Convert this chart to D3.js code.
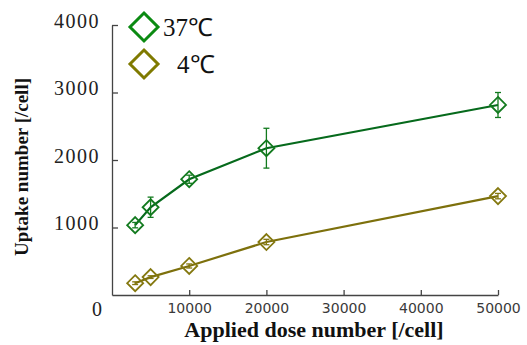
<!DOCTYPE html>
<html>
<head>
<meta charset="utf-8">
<script src="https://cdn.jsdelivr.net/npm/d3@7"></script>
<style>
  body { margin: 0; background: #fff; }
</style>
</head>
<body>
<script>
var width = 527, height = 345;
var serif = "'Times New Roman'";

// data
var doses = [3000, 5000, 10000, 20000, 50000];
var uptake37 = [1035, 1300, 1715, 2175, 2815];
var err37 = [40, 150, 60, 295, 185];
var uptake4 = [175, 265, 430, 785, 1465];
var err4 = [20, 20, 30, 40, 40];
var xTicks = [10000, 20000, 30000, 40000, 50000];
var yTicks = [1000, 2000, 3000, 4000];

var green = "#127a1e", olive = "#84780f";

var svg = d3.select("body").append("svg")
  .attr("width", width)
  .attr("height", height);

var x = d3.scaleLinear().domain([0, 50000]).range([112, 498]);
var y = d3.scaleLinear().domain([0, 4000]).range([295, 25]);

// axes
var xAxis = svg.append("g")
  .attr("transform", "translate(0," + y(0) + ")")
  .call(d3.axisBottom(x).tickValues(xTicks).tickSizeInner(-5).tickSizeOuter(0).tickFormat(d3.format("d")));
xAxis.select(".domain").attr("stroke", "#444").attr("stroke-width", 1.3);
xAxis.selectAll(".tick line").attr("stroke", "#444").attr("stroke-width", 1.3);
xAxis.selectAll(".tick text")
  .attr("y", 8)
  .style("font-family", "'DejaVu Sans'")
  .style("font-size", "14px")
  .attr("fill", "#3a3a3a");

var yAxis = svg.append("g")
  .attr("transform", "translate(" + x(0) + ",0)")
  .call(d3.axisLeft(y).tickValues(yTicks).tickSizeInner(-6).tickSizeOuter(0).tickFormat(d3.format("d")));
yAxis.select(".domain").attr("stroke", "#444").attr("stroke-width", 1.3);
yAxis.selectAll(".tick text")
  .attr("x", -12)
  .attr("dy", "0.12em")
  .style("font-family", serif)
  .style("font-size", "20px")
  .style("letter-spacing", "1.5px")
  .attr("fill", "#222");
yAxis.selectAll(".tick line").attr("stroke", "#444").attr("stroke-width", 1.3);

svg.append("text")
  .attr("x", 102).attr("y", 316)
  .attr("text-anchor", "end")
  .style("font-family", serif)
  .style("font-size", "20px")
  .attr("fill", "#222")
  .text("0");

// titles
svg.append("text")
  .attr("x", 314).attr("y", 337)
  .attr("text-anchor", "middle")
  .style("font-family", serif)
  .style("font-weight", "bold")
  .style("font-size", "22px")
  .attr("fill", "#111")
  .text("Applied dose number [/cell]");

svg.append("text")
  .attr("transform", "translate(28,167) rotate(-90)")
  .attr("text-anchor", "middle")
  .style("font-family", serif)
  .style("font-weight", "bold")
  .style("font-size", "19px")
  .attr("fill", "#111")
  .text("Uptake number [/cell]");

// series
function drawSeries(vals, errs, col, lineCol) {
  var pts = doses.map(function (d, i) { return { x: d, y: vals[i], e: errs[i] }; });
  var line = d3.line()
    .x(function (d) { return x(d.x); })
    .y(function (d) { return y(d.y); });
  var g = svg.append("g");
  g.append("path")
    .datum(pts)
    .attr("d", line)
    .attr("fill", "none")
    .attr("stroke", lineCol)
    .attr("stroke-width", 2.2);
  var eb = g.selectAll(".err").data(pts).enter().append("g");
  eb.append("line")
    .attr("x1", function (d) { return x(d.x); })
    .attr("x2", function (d) { return x(d.x); })
    .attr("y1", function (d) { return y(d.y - d.e); })
    .attr("y2", function (d) { return y(d.y + d.e); })
    .attr("stroke", col).attr("stroke-width", 1.3);
  [-1, 1].forEach(function (s) {
    eb.append("line")
      .attr("x1", function (d) { return x(d.x) - 3; })
      .attr("x2", function (d) { return x(d.x) + 3; })
      .attr("y1", function (d) { return y(d.y + s * d.e); })
      .attr("y2", function (d) { return y(d.y + s * d.e); })
      .attr("stroke", col).attr("stroke-width", 1.3);
  });
  g.selectAll(".mk").data(pts).enter().append("path")
    .attr("d", "M0,-8L8,0L0,8L-8,0Z")
    .attr("transform", function (d) { return "translate(" + x(d.x) + "," + y(d.y) + ")"; })
    .attr("fill", "none")
    .attr("stroke", col)
    .attr("stroke-width", 1.8);
}

drawSeries(uptake37, err37, green, "#066a1c");
drawSeries(uptake4, err4, olive, "#7d700c");

// legend
var legend = [
  { label: "37\u2103", col: "#0b8a12", y: 27, tx: 163 },
  { label: "4\u2103", col: "#7f7a00", y: 64, tx: 177 }
];
var lg = svg.selectAll(".leg").data(legend).enter().append("g");
lg.append("path")
  .attr("d", "M0,-14L14,0L0,14L-14,0Z")
  .attr("transform", function (d) { return "translate(144," + d.y + ")"; })
  .attr("fill", "none")
  .attr("stroke", function (d) { return d.col; })
  .attr("stroke-width", 3);
lg.append("text")
  .attr("x", function (d) { return d.tx; })
  .attr("y", function (d) { return d.y + 9; })
  .style("font-family", serif)
  .style("font-size", "25px")
  .attr("fill", "#111")
  .text(function (d) { return d.label; });
</script>
</body>
</html>
